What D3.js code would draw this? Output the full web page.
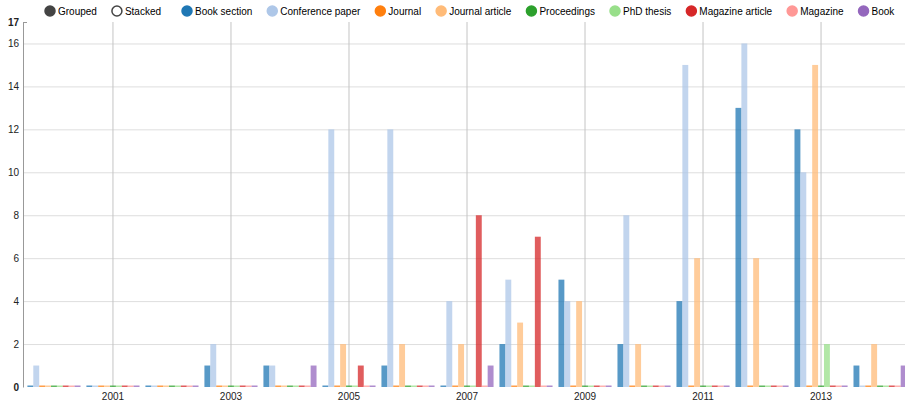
<!DOCTYPE html>
<html>
<head>
<meta charset="utf-8">
<script src="https://cdn.jsdelivr.net/npm/d3@7"></script>
<style>
body { margin: 0; background: #fff; overflow: hidden; }
svg { font-family: "Liberation Sans", Arial, sans-serif; display: block; }
.grid path { display: none; }
.hgrid line { stroke: #dedede; }
.vgrid line { stroke: #c4c4c4; }
.yaxis path.domain { stroke: #999; }
.yaxis line { stroke: #999; }
.yaxis text, .xaxis text { fill: #222; font-size: 10px; }
.xaxis path, .xaxis line { display: none; }
.bar { fill-opacity: 0.75; }
.legend text { font-size: 10px; fill: #000; }
</style>
</head>
<body>
<script>
const width = 905,
    height = 402;

const years = ['2000','2001','2002','2003','2004','2005','2006','2007','2008','2009','2010','2011','2012','2013','2014'];
const seriesNames = ['Book section','Conference paper','Journal','Journal article','Proceedings','PhD thesis','Magazine article','Magazine','Book'];
const colors = ['#1f77b4','#aec7e8','#ff7f0e','#ffbb78','#2ca02c','#98df8a','#d62728','#ff9896','#9467bd'];

// one value per year, 2000..2014
const bookSection     = [0,0,0,1,1,0,1,0,2,5,2,4,13,12,1];
const conferencePaper = [1,0,0,2,1,12,12,4,5,4,8,15,16,10,0];
const journal         = [0,0,0,0,0,0,0,0,0,0,0,0,0,0,0];
const journalArticle  = [0,0,0,0,0,2,2,2,3,4,2,6,6,15,2];
const proceedings     = [0,0,0,0,0,0,0,0,0,0,0,0,0,0,0];
const phdThesis       = [0,0,0,0,0,0,0,0,0,0,0,0,0,2,0];
const magazineArticle = [0,0,0,0,0,1,0,8,7,0,0,0,0,0,0];
const magazine        = [0,0,0,0,0,0,0,0,0,0,0,0,0,0,0];
const book            = [0,0,0,0,1,0,0,1,0,0,0,0,0,0,1];

const values = [bookSection, conferencePaper, journal, journalArticle, proceedings,
    phdThesis, magazineArticle, magazine, book];

const xTickLabels = ['2001','2003','2005','2007','2009','2011','2013'];
const yTicks = [0,2,4,6,8,10,12,14,16,17];
const controls = ['Grouped','Stacked'];

const x = d3.scaleBand().domain(years).range([21.5, 912.5]).paddingInner(0.1).paddingOuter(0.1);
const xInner = d3.scaleBand().domain(seriesNames).range([0, x.bandwidth()]);
const y = d3.scaleLinear().domain([0,17]).range([387, 22]);

const svg = d3.select('body').append('svg')
    .attr('width', width)
    .attr('height', height)
    ;

// gridlines
svg.append('g')
    .attr('class', 'grid hgrid')
    .attr('transform', 'translate(23,0)')
    .call(d3.axisLeft(y).tickValues(yTicks.filter(d => d > 0 && d < 17)).tickSize(-(width)).tickFormat(''));

svg.append('g')
    .attr('class', 'grid vgrid')
    .attr('transform', 'translate(0,' + y(0) + ')')
    .call(d3.axisBottom(x).tickValues(xTickLabels).tickSize(-(y(0) - y(17))).tickFormat(''));

// y axis
const yAxis = svg.append('g')
    .attr('class', 'yaxis')
    .attr('transform', 'translate(23,0)')
    .call(d3.axisLeft(y).tickValues(yTicks).tickSize(0).tickPadding(4).tickSizeOuter(0));
yAxis.selectAll('.tick text')
    .style('font-weight', d => (d === 0 || d === 17) ? 'bold' : 'normal');
yAxis.selectAll('.tick').filter(d => d === 17).select('line').attr('x2', 4);

// x axis
svg.append('g')
    .attr('class', 'xaxis')
    .attr('transform', 'translate(0,' + y(0) + ')')
    .call(d3.axisBottom(x).tickValues(xTickLabels).tickSize(0).tickPadding(6));

// bars
const groups = svg.append('g').selectAll('g.series')
    .data(values)
    .enter()
    .append('g')
    .attr('class', 'series')
    .attr('fill', (d, i) => colors[i]);

groups.each(function(list, i) {
    d3.select(this).selectAll('rect')
        .data(list)
        .enter()
        .append('rect')
        .attr('class', 'bar')
        .attr('x', (d, j) => x(years[j]) + xInner(seriesNames[i]))
        .attr('width', xInner.bandwidth())
        .attr('y', d => d > 0 ? y(d) : y(0) - 1.5)
        .attr('height', d => d > 0 ? y(0) - y(d) : 1.5)
        ;
});

// legend
function renderLegend(items, startX, fillFn, strokeFn) {
    const g = svg.append('g').attr('class', 'legend');
    let pos = startX;
    items.forEach((name, i) => {
        const item = g.append('g').attr('transform', 'translate(' + pos + ',11)');
        item.append('circle')
            .attr('r', 5)
            .attr('fill', fillFn(i))
            .attr('stroke', strokeFn(i))
            .attr('stroke-width', 1.5);
        const t = item.append('text')
            .attr('x', 8)
            .attr('dy', '0.35em')
            .text(name);
        pos += t.node().getComputedTextLength() + 28;
    });
}

renderLegend(controls, 50, i => i === 0 ? '#444' : '#fff', () => '#444');
renderLegend(seriesNames, 187, i => colors[i], i => colors[i]);
</script>
</body>
</html>
